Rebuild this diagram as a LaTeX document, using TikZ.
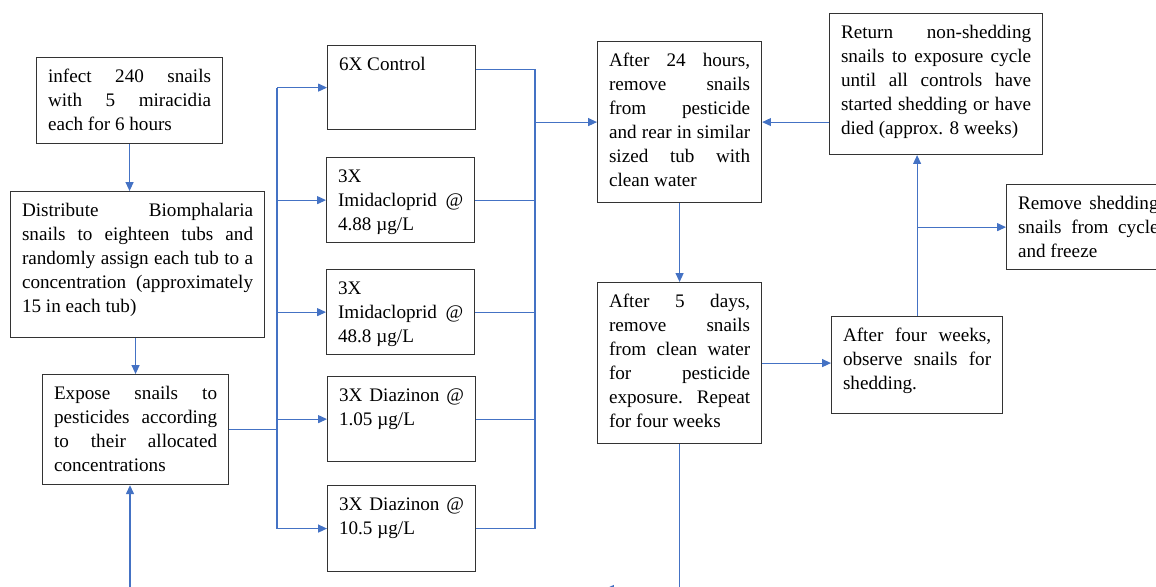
\documentclass[tikz,border=0pt]{standalone}
\usepackage{fontspec}
\setmainfont{Liberation Serif}
\usepackage{tikz}
\usetikzlibrary{arrows.meta, calc}
\usepackage{xcolor}

\definecolor{flowblue}{HTML}{4472C4}
\definecolor{boxline}{HTML}{333333}

\hyphenpenalty=10000
\exhyphenpenalty=10000

\tikzset{
	stage/.style={draw=boxline, line width=0.7pt, anchor=north west, align=justify,
		inner xsep=6.5pt, inner ysep=3.6pt, text height=10.6pt,
		font=\fontsize{10.9}{13.6}\selectfont},
	wire/.style={draw=flowblue, line width=0.6pt},
	flow/.style={wire, -{Triangle[length=5pt, width=4.5pt]}}
}

\begin{document}
\begin{tikzpicture}[x=0.02cm, y=-0.02cm]
			% Page frame (the figure is cut at the right and at the bottom)
			\useasboundingbox (0,0) rectangle (1156,587);
			\clip (0,0) rectangle (1156,587);
			
			% Key coordinates (the two buses and the loop back)
			\coordinate (busL) at (277,0);
			\coordinate (busR) at (535,0);
			\coordinate (loopEnd) at (605,589);
			\coordinate (loopUp) at (130,600);
			
			% Left column
			\node[stage, text width=92.8pt, text depth=31.1pt] (infect) at (36,57)
				{infect 240 snails\linebreak with 5 miracidia\linebreak each for 6 hours};
			\node[stage, text width=131.5pt, text depth=65.3pt] (distribute) at (10,191)
				{Distribute Biomphalaria\linebreak snails to eighteen tubs and\linebreak randomly assign each tub to a\linebreak concentration (approximately\linebreak 15 in each tub)};
			\node[stage, text width=92.8pt, text depth=44.8pt] (expose) at (42,374)
				{Expose snails to\linebreak pesticides according\linebreak to their allocated\linebreak concentrations};
			
			% Treatments
			\node[stage, text width=71.2pt, text depth=30.0pt] (control) at (327,45) {6X Control};
			\node[stage, text width=71.2pt, text depth=30.6pt] (imidLow) at (326,157)
				{3X\\ Imidacloprid @\linebreak 4.88 µg/L};
			\node[stage, text width=71.2pt, text depth=30.6pt] (imidHigh) at (326,269)
				{3X\\ Imidacloprid @\linebreak 48.8 µg/L};
			\node[stage, text width=71.2pt, text depth=30.6pt] (diazLow) at (327,376)
				{3X Diazinon @\linebreak 1.05 µg/L};
			\node[stage, text width=71.2pt, text depth=31.1pt] (diazHigh) at (327,485)
				{3X Diazinon @\linebreak 10.5 µg/L};
			
			% Exposure cycle
			\node[stage, text width=80.3pt, text depth=73.8pt] (rinse) at (597,41)
				{After 24 hours,\linebreak remove snails\linebreak from pesticide\linebreak and rear in similar\linebreak sized tub with\linebreak clean water};
			\node[stage, text width=80.3pt, text depth=73.8pt] (reexpose) at (597,282)
				{After 5 days,\linebreak remove snails\linebreak from clean water\linebreak for pesticide\linebreak exposure. Repeat\linebreak for four weeks};
			\node[stage, text width=108.2pt, text depth=62.4pt] (recycle) at (829,13)
				{Return non-shedding\linebreak snails to exposure cycle\linebreak until all controls have\linebreak started shedding or have\linebreak died (approx. 8 weeks)};
			\node[stage, text width=80pt, text depth=30.6pt] (freeze) at (1006,184)
				{Remove shedding\linebreak snails from cycle\linebreak and freeze};
			\node[stage, text width=84.3pt, text depth=37.4pt] (observe) at (831,316)
				{After four weeks,\linebreak observe snails for\linebreak shedding.};
			
			% Left column arrows
			\draw[flow] (infect.south) -- (infect.south |- distribute.north);
			\draw[flow] (expose.north |- distribute.south) -- (expose.north);
			
			% Fan out to the treatments
			\draw[wire] (expose.east) -- (expose.east -| busL);
			\draw[wire] (busL |- control.west) -- (busL |- diazHigh.west);
			\foreach \n in {control, imidLow, imidHigh, diazLow, diazHigh}
				\draw[flow] (busL |- \n.west) -- (\n.west);
			
			% Collect the treatments
			\draw[wire] ($(control.north east)!0.29!(control.south east)$) -| (busR |- diazHigh.east);
			\foreach \n in {imidLow, imidHigh, diazLow, diazHigh}
				\draw[wire] (\n.east) -- (busR |- \n.east);
			\draw[flow] (busR |- rinse.west) -- (rinse.west);
			
			% Exposure cycle arrows
			\draw[flow] (rinse.south) -- (reexpose.north);
			\draw[flow] (reexpose.east) -- (reexpose.east -| observe.west);
			\draw[flow] (observe.north) -- (observe.north |- recycle.south);
			\draw[flow] (observe.north |- freeze.west) -- (freeze.west);
			\draw[flow] (rinse.east -| recycle.west) -- (rinse.east);
			
			% Loop back to the exposure step
			\draw[flow] (reexpose.south) |- (loopEnd);
			\draw[flow] (loopUp) -- (loopUp |- expose.south);
			
		\end{tikzpicture}
\end{document}
